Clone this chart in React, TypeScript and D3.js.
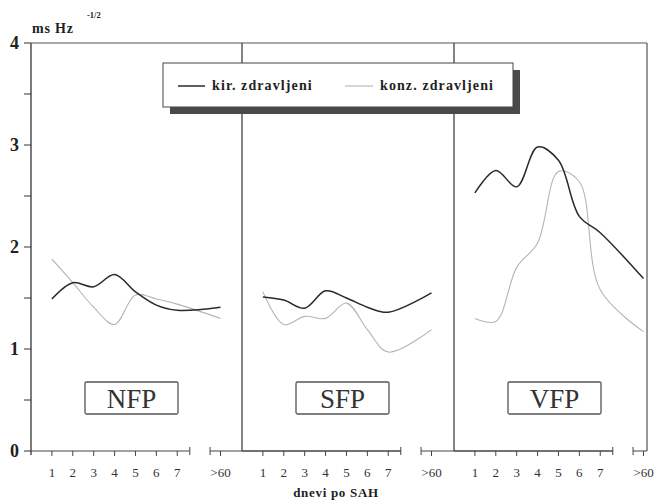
import React from 'react';
import * as d3 from 'd3';

// x categories (days after SAH) and the three panels
const days = ['1', '2', '3', '4', '5', '6', '7', '>60'];
const panels = ['NFP', 'SFP', 'VFP'];
const yLabels = [0, 1, 2, 3, 4];

// values, ms Hz^-1/2
const kirNFP = [1.49, 1.65, 1.61, 1.73, 1.56, 1.43, 1.38, 1.41];
const konzNFP = [1.88, 1.65, 1.41, 1.24, 1.53, 1.49, 1.44, 1.30];
const kirSFP = [1.51, 1.48, 1.40, 1.57, 1.50, 1.41, 1.36, 1.55];
const konzSFP = [1.56, 1.24, 1.32, 1.30, 1.45, 1.19, 0.97, 1.19];
const kirVFP = [2.53, 2.75, 2.59, 2.98, 2.85, 2.30, 2.14, 1.69];
const konzVFP = [1.30, 1.27, 1.80, 2.04, 2.74, 2.64, 1.58, 1.17];

const kir = [kirNFP, kirSFP, kirVFP];
const konz = [konzNFP, konzSFP, konzVFP];

const W = 660;
const H = 504;
const left = 31;
const top = 43;
const bottom = 451;
const right = 647;
const panelLeft = [31, 242, 454];

const serif = '"Liberation Serif", "Times New Roman", serif';

// day position -> pixels within one panel; ">60" sits after a broken axis
const xs = d3.scaleLinear().domain([0, 9.07]).range([0, 189.5]);
const pos = (i: number) => (i < 7 ? i + 1 : 9.07);
const y = d3.scaleLinear().domain([0, 4]).range([bottom, top]);

const App = () => {
  const yTicks = d3.range(0, 4.01, 0.5);

  return (
    <svg width={W} height={H} style={{ position: 'absolute', left: 0, top: 0, background: '#fff' }}>
      {/* axis unit */}
      <text x={32} y={33} fontFamily={serif} fontSize={14} fontWeight="bold" letterSpacing={0.8} fill="#222">ms Hz</text>
      <text x={87} y={18} fontFamily={serif} fontSize={8.5} fontWeight="bold" fill="#222">-1/2</text>

      {/* frame */}
      <line x1={left} x2={left} y1={top} y2={bottom + 4} stroke="#333" strokeWidth={1.3} />
      <line x1={left} x2={right} y1={top} y2={top} stroke="#555" strokeWidth={1.2} />
      <line x1={right} x2={right} y1={top} y2={bottom} stroke="#555" strokeWidth={1.2} />
      {panelLeft.slice(1).map(px => (
        <line key={px} x1={px} x2={px} y1={top} y2={bottom} stroke="#333" strokeWidth={1.2} />
      ))}

      {/* y ticks */}
      {yTicks.map(t => (
        <line key={t} x1={left - 7} x2={left} y1={y(t)} y2={y(t)} stroke="#333" strokeWidth={1} />
      ))}
      {yLabels.map(t => (
        <text key={t} x={19} y={y(t) + 6} textAnchor="end" fontFamily={serif} fontSize={18} fontWeight="bold" fill="#222">{t}</text>
      ))}

      {/* broken x axis */}
      {panelLeft.map((L, p) => {
        const endBar = L + xs(7.6);
        const restart = L + xs(8.57);
        const segEnd = p < 2 ? panelLeft[p + 1] + xs(7.6) : right;
        return (
          <g key={p}>
            <line x1={L} x2={endBar} y1={bottom} y2={bottom} stroke="#444" strokeWidth={1} />
            <line x1={restart} x2={segEnd} y1={bottom} y2={bottom} stroke="#444" strokeWidth={1} />
            <line x1={endBar} x2={endBar} y1={bottom - 4} y2={bottom + 4} stroke="#444" strokeWidth={1} />
            <line x1={restart} x2={restart} y1={bottom - 4} y2={bottom + 4} stroke="#444" strokeWidth={1} />
            {days.map((d, i) => {
              const x = L + xs(pos(i));
              return (
                <g key={d}>
                  <line x1={x} x2={x} y1={bottom} y2={bottom + 5} stroke="#444" strokeWidth={1} />
                  <text x={x} y={477} textAnchor="middle" fontFamily={serif} fontSize={13} fill="#333">{d}</text>
                </g>
              );
            })}
          </g>
        );
      })}
      <text x={336} y={497} textAnchor="middle" fontFamily={serif} fontSize={13} fontWeight="bold" letterSpacing={0.7} fill="#222">dnevi po SAH</text>

      {/* series */}
      {panelLeft.map((L, p) => {
        const line = d3.line<number>()
          .x((_, i) => L + xs(pos(i)))
          .y(v => y(v))
          .curve(d3.curveCatmullRom);
        return (
          <g key={p}>
            <path d={line(konz[p]) || ''} fill="none" stroke="#b4b4b4" strokeWidth={1.1} />
            <path d={line(kir[p]) || ''} fill="none" stroke="#2a2a2a" strokeWidth={1.5} />
          </g>
        );
      })}

      {/* panel labels */}
      {panelLeft.map((L, p) => {
        const bx = L + 54;
        return (
          <g key={p}>
            <rect x={bx} y={382} width={93} height={32} rx={1.5} fill="#fff" stroke="#555" strokeWidth={1.3} />
            <text x={bx + 46.5} y={408} textAnchor="middle" fontFamily={serif} fontSize={27} fill="#333">{panels[p]}</text>
          </g>
        );
      })}

      {/* legend */}
      <rect x={170} y={70} width={350} height={44} fill="#4a4a4a" />
      <rect x={163} y={63} width={350} height={44} fill="#fff" stroke="#444" strokeWidth={1} />
      <line x1={178} x2={205} y1={86} y2={86} stroke="#2a2a2a" strokeWidth={1.5} />
      <text x={212} y={90} fontFamily={serif} fontSize={14} fontWeight="bold" letterSpacing={1.1} fill="#222">kir. zdravljeni</text>
      <line x1={345} x2={373} y1={86} y2={86} stroke="#b4b4b4" strokeWidth={1.1} />
      <text x={380} y={90} fontFamily={serif} fontSize={14} fontWeight="bold" letterSpacing={1.1} fill="#222">konz. zdravljeni</text>
    </svg>
  );
};

export default App;
